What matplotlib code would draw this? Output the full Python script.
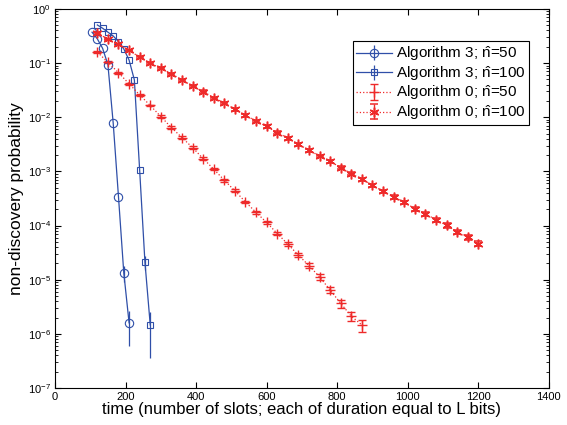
import matplotlib
matplotlib.use('Agg')
import matplotlib.pyplot as plt
from matplotlib.ticker import LogLocator, NullFormatter
import numpy as np

plt.rcParams['font.family'] = ['Liberation Sans', 'DejaVu Sans']
plt.rcParams['mathtext.fontset'] = 'custom'
plt.rcParams['mathtext.rm'] = 'Liberation Sans'
plt.rcParams['mathtext.it'] = 'Liberation Sans:italic'
plt.rcParams['mathtext.bf'] = 'Liberation Sans:bold'

# Algorithm 3, n-hat = 50 (circles)
alg3_50_x = [105, 120, 135, 150, 165, 180, 195, 210]
alg3_50_y = [0.372, 0.280, 0.187, 0.0935, 7.78e-3, 3.38e-4, 1.34e-5, 1.60e-6]
alg3_50_err = [0.0, 0.0, 0.0, 0.0, 0.0, 0.0, 0.45e-5, 1.0e-6]

# Algorithm 3, n-hat = 100 (squares)
alg3_100_x = [120, 135, 150, 165, 180, 195, 210, 225, 240, 255, 270]
alg3_100_y = [0.506, 0.440, 0.372, 0.317, 0.249, 0.182, 0.114, 0.0489,
              1.05e-3, 2.09e-5, 1.46e-6]
alg3_100_err = [0.0, 0.0, 0.0, 0.0, 0.0, 0.0, 0.0, 0.0, 0.0, 0.6e-5, 1.1e-6]

# Algorithm 0, n-hat = 50 (plus)
alg0_50_x = [120, 150, 180, 210, 240, 270, 300, 330, 360, 390, 420, 450, 480,
             510, 540, 570, 600, 630, 660, 690, 720, 750, 780, 810, 840, 870]
alg0_50_y = [0.159, 0.104, 0.0664, 0.0415, 0.0259, 0.0165, 0.0103, 6.44e-3,
             4.21e-3, 2.75e-3, 1.72e-3, 1.10e-3, 6.85e-4, 4.38e-4, 2.73e-4,
             1.75e-4, 1.14e-4, 7.13e-5, 4.55e-5, 2.84e-5, 1.82e-5, 1.13e-5,
             6.43e-6, 3.66e-6, 2.12e-6, 1.46e-6]
alg0_50_rel = [0.04, 0.04, 0.04, 0.04, 0.04, 0.04, 0.05, 0.05, 0.05, 0.05,
               0.05, 0.05, 0.06, 0.06, 0.06, 0.07, 0.07, 0.08, 0.08, 0.09,
               0.10, 0.11, 0.13, 0.17, 0.20, 0.25]

# Algorithm 0, n-hat = 100 (star)
alg0_100_x = [120, 150, 180, 210, 240, 270, 300, 330, 360, 390, 420, 450, 480,
              510, 540, 570, 600, 630, 660, 690, 720, 750, 780, 810, 840, 870,
              900, 930, 960, 990, 1020, 1050, 1080, 1110, 1140, 1170, 1200]
alg0_100_y = [0.363, 0.273, 0.221, 0.171, 0.129, 0.0991, 0.0802, 0.0634, 0.0489,
              0.0377, 0.0298, 0.0230, 0.0182, 0.0140, 0.0108, 8.55e-3, 6.75e-3,
              5.20e-3, 4.11e-3, 3.17e-3, 2.45e-3, 1.93e-3, 1.53e-3, 1.18e-3,
              9.10e-4, 7.18e-4, 5.55e-4, 4.28e-4, 3.38e-4, 2.67e-4, 2.06e-4,
              1.63e-4, 1.29e-4, 1.01e-4, 7.65e-5, 6.04e-5, 4.66e-5]
alg0_100_rel = [0.03, 0.03, 0.03, 0.04, 0.04, 0.04, 0.04, 0.04, 0.04, 0.05,
                0.05, 0.05, 0.05, 0.05, 0.05, 0.05, 0.06, 0.06, 0.06, 0.06,
                0.06, 0.06, 0.07, 0.07, 0.07, 0.07, 0.07, 0.08, 0.08, 0.08,
                0.08, 0.09, 0.09, 0.09, 0.10, 0.10, 0.11]

y_ticks = [1e-7, 1e-6, 1e-5, 1e-4, 1e-3, 1e-2, 1e-1, 1]
x_ticks = [0, 200, 400, 600, 800, 1000, 1200, 1400]

blue = '#2f4fa8'
red = '#ee2a2a'
hat_n = r'$\hat{\mathrm{n}}$'

fig = plt.figure(figsize=(5.67, 4.25), dpi=100)
ax = fig.add_axes([0.097, 0.087, 0.871, 0.892])

ax.errorbar(alg3_50_x, alg3_50_y, yerr=alg3_50_err, color=blue, lw=0.9,
            marker='o', ms=6, mfc='none', mec=blue, mew=0.8, capsize=0,
            elinewidth=0.9, label='Algorithm 3; ' + hat_n + '=50')
ax.errorbar(alg3_100_x, alg3_100_y, yerr=alg3_100_err, color=blue, lw=0.9,
            marker='s', ms=5, mfc='none', mec=blue, mew=0.8, capsize=0,
            elinewidth=0.9, label='Algorithm 3; ' + hat_n + '=100')

y50 = np.array(alg0_50_y)
ax.errorbar(alg0_50_x, y50, yerr=y50 * np.array(alg0_50_rel), color=red, lw=0.9,
            ls=':', marker='+', ms=7, mew=1.0, capsize=3, elinewidth=1.0,
            label='Algorithm 0; ' + hat_n + '=50')
y100 = np.array(alg0_100_y)
ax.errorbar(alg0_100_x, y100, yerr=y100 * np.array(alg0_100_rel), color=red, lw=0.9,
            ls=':', marker=(6, 2, 0), ms=7, mew=1.1, capsize=3, elinewidth=1.0,
            label='Algorithm 0; ' + hat_n + '=100')

ax.set_yscale('log')
ax.set_xlim(0, 1400)
ax.set_ylim(1e-7, 1)
ax.set_xticks(x_ticks)
ax.set_yticks(y_ticks)
ax.yaxis.set_minor_locator(LogLocator(base=10, subs=np.arange(2, 10), numticks=20))
ax.yaxis.set_minor_formatter(NullFormatter())
ax.tick_params(which='both', direction='in', top=True, right=True, labelsize=8)
ax.tick_params(which='major', length=4, pad=3)
ax.tick_params(which='minor', length=2)

ax.set_xlabel('time (number of slots; each of duration equal to L bits)', fontsize=12, labelpad=0)
ax.set_ylabel('non-discovery probability', fontsize=12.5, labelpad=3)

leg = ax.legend(loc='upper right', bbox_to_anchor=(0.96, 0.915), fontsize=11,
                fancybox=False, edgecolor='black', framealpha=1,
                handlelength=2.3, borderpad=0.2, labelspacing=0.05,
                handletextpad=0.3, borderaxespad=0)
leg.get_frame().set_linewidth(0.8)

plt.savefig('out.png', dpi=100)
